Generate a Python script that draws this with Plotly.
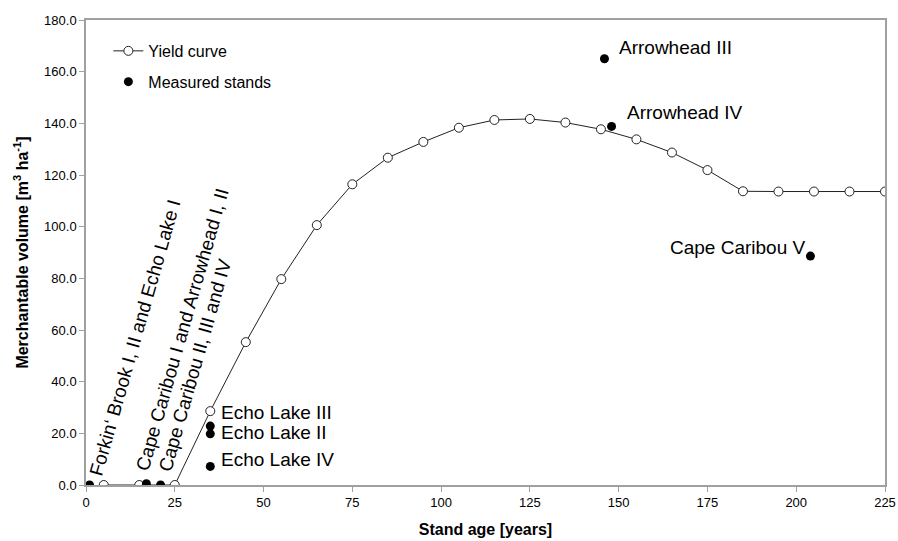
import plotly.graph_objects as go

# Yield curve
yield_age = [5, 15, 25, 35, 45, 55, 65, 75, 85, 95, 105, 115, 125, 135, 145, 155, 165, 175, 185, 195, 205, 215, 225]
yield_vol = [0.0, 0.0, 0.0, 28.6, 55.3, 79.7, 100.6, 116.4, 126.7, 132.8, 138.3, 141.3, 141.7, 140.3, 137.7, 133.8, 128.7, 121.9, 113.7, 113.6, 113.6, 113.6, 113.6]

# Measured stands
stand_age = [1, 17, 21, 35, 35, 35, 146, 148, 204]
stand_vol = [0.0, 0.5, 0.0, 22.8, 19.8, 7.2, 165.0, 138.8, 88.6]

# Stand labels (text, index of the stand it belongs to)
label_text = [
    "Forkin\u2018 Brook I, II and Echo Lake I",
    "Cape Caribou I and Arrowhead I, II",
    "Cape Caribou II, III and IV",
    "Echo Lake III",
    "Echo Lake II",
    "Echo Lake IV",
    "Arrowhead III",
    "Arrowhead IV",
    "Cape Caribou V",
]
label_stand = [0, 1, 2, 3, 4, 5, 6, 7, 8]

# label placement (styling)
label_style = [
    dict(textangle=-74, xanchor="left", yanchor="bottom", xshift=-7, yshift=4, size=19),
    dict(textangle=-74, xanchor="left", yanchor="bottom", xshift=-17, yshift=8, size=19),
    dict(textangle=-74, xanchor="left", yanchor="bottom", xshift=-8, yshift=9, size=19),
    dict(textangle=0, xanchor="left", yanchor="middle", xshift=9, yshift=14, size=19),
    dict(textangle=0, xanchor="left", yanchor="middle", xshift=9, yshift=1, size=19),
    dict(textangle=0, xanchor="left", yanchor="middle", xshift=9, yshift=7, size=19),
    dict(textangle=0, xanchor="left", yanchor="middle", xshift=13, yshift=11, size=19),
    dict(textangle=0, xanchor="left", yanchor="middle", xshift=13, yshift=14, size=19),
    dict(textangle=0, xanchor="right", yanchor="middle", xshift=-2, yshift=9, size=19),
]

FONT = "Liberation Sans, Arial, sans-serif"

fig = go.Figure()
fig.add_trace(go.Scatter(
    x=yield_age, y=yield_vol, mode="lines+markers", name="Yield curve",
    line=dict(color="#222222", width=1),
    marker=dict(symbol="circle", size=9, color="white", line=dict(color="#222222", width=1)),
    legendgroup="a",
))
fig.add_trace(go.Scatter(
    x=stand_age, y=stand_vol, mode="markers", name="Measured stands",
    marker=dict(symbol="circle", size=9, color="black"),
    legendgroup="b",
))

for txt, idx, st in zip(label_text, label_stand, label_style):
    st = dict(st)
    size = st.pop("size")
    fig.add_annotation(
        x=stand_age[idx], y=stand_vol[idx], text=txt, showarrow=False,
        font=dict(family=FONT, size=size, color="black"), **st,
    )

axis_common = dict(
    showline=True, linecolor="#a0a0a0", linewidth=1.5, mirror=True,
    ticks="outside", ticklen=5, tickcolor="#a0a0a0", tickwidth=1,
    showgrid=False, zeroline=False, automargin=False,
    tickfont=dict(family=FONT, size=13, color="black"),
)

fig.update_layout(
    width=898, height=541,
    margin=dict(l=86, r=13, t=20, b=56),
    paper_bgcolor="white", plot_bgcolor="white",
    font=dict(family=FONT, color="black"),
    showlegend=True,
    legend=dict(
        x=0.028, y=0.97, xanchor="left", yanchor="top",
        font=dict(family=FONT, size=16, color="black"),
        bgcolor="rgba(0,0,0,0)", tracegroupgap=7,
    ),
    xaxis=dict(
        range=[0, 225], dtick=25, tick0=0,
        title=dict(text="<b>Stand age [years]</b>", font=dict(family=FONT, size=16), standoff=14),
        **axis_common,
    ),
    yaxis=dict(
        range=[0, 180], dtick=20, tick0=0, tickformat=".1f",
        title=dict(text="<b>Merchantable volume [m<sup>3</sup> ha<sup>-1</sup>]</b>", font=dict(family=FONT, size=16), standoff=12),
        **axis_common,
    ),
)

fig.write_html("out.html")
